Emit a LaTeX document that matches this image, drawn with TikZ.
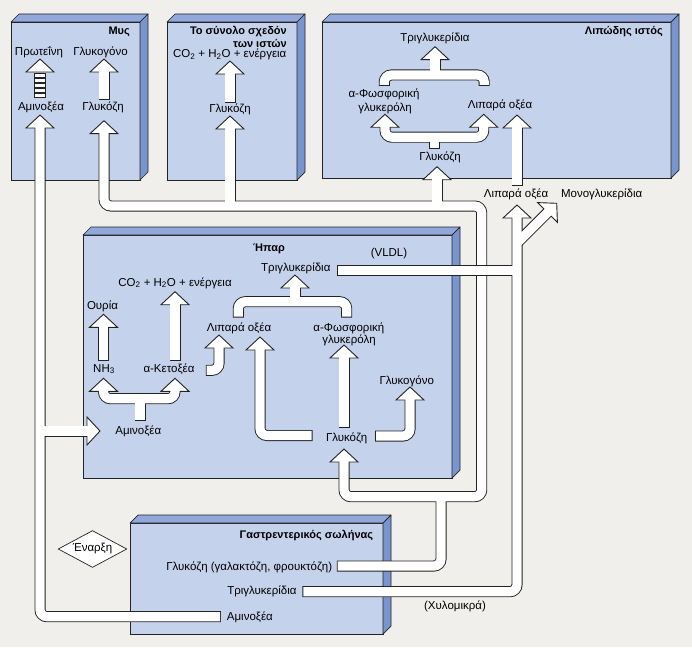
\documentclass[tikz,border=0pt]{standalone}
\usepackage{fontspec}
\setmainfont{Liberation Sans}
\definecolor{bgc}{RGB}{241,239,235}
\definecolor{frontc}{RGB}{197,210,236}
\definecolor{sidec}{RGB}{122,148,205}
\definecolor{topc}{RGB}{146,168,218}
\definecolor{edgec}{RGB}{35,35,35}
\tikzset{
  pipeout/.style={line width=11pt, draw=edgec, rounded corners=7pt, shorten <=-0.9pt, shorten >=-0.9pt},
  pipein/.style={line width=9.2pt, draw=white, rounded corners=7pt},
  headst/.style={draw=edgec, fill=white, line width=0.9pt, line join=miter},
  ahead/.pic={\path[headst] (-14,13) -- (0,0) -- (14,13) -- cycle;},
  boxst/.style={draw=edgec, fill=frontc, line width=0.7pt, inner sep=0pt, outer sep=0pt, anchor=north west},
  topst/.style={draw=edgec, fill=topc, line width=0.7pt, line join=round},
  sidest/.style={draw=edgec, fill=sidec, line width=0.7pt, line join=round},
  lbl/.style={inner sep=0pt, text height=8pt, text depth=2.5pt, font=\fontsize{11.5}{13}\selectfont},
  ttl/.style={lbl, font=\fontsize{11}{13}\selectfont\bfseries},
  stripest/.style={draw=edgec, fill=white, line width=0.8pt},
}
\newcommand\tdbox[5]{%
  \node[boxst, minimum width=#4pt, minimum height=#5pt] (#1) at (#2,#3) {};
  \draw[topst] (#1.north west) -- ++(8,-8) -- ([shift={(8,-8)}]#1.north east) -- (#1.north east) -- cycle;
  \draw[sidest] (#1.north east) -- ([shift={(8,-8)}]#1.north east) -- ([shift={(8,-8)}]#1.south east) -- (#1.south east) -- cycle;}
\newcommand\pipesOne[1]{%
  \draw[#1] (mysGlEnd) |- (glTR) -- (glBR) -| (hpGlEnd);
  \draw[#1] (gaGlFree) -| (glJ);
  \draw[#1] (olGlJ) -- (olGlEnd);
  \draw[#1] (lpGlJ) -- (lpGlEnd);
  \draw[#1] (faFree) -- (lpFaTwoEnd);
  \draw[#1] (gaAmFree) -| (mysAmEnd);
  \draw[#1] (amJ) -- (hpAmEnd);
  \draw[#1] (mysGlFree) -- (mysGyEnd);
  \draw[#1] (olGlFree) -- (olCoEnd);
  \draw[#1] (lpPhEnd) -- (lpBarL) -- (lpBarR) -- (lpFaEnd);
  \draw[#1] (lpGlFree) -- (lpBarM);
  \draw[#1] (lpForkL) -- (lpTopL) -- (lpTopR) -- (lpForkR);
  \draw[#1] (lpTopM) -- (lpTgEnd);
  \draw[#1] (hpForkL) -- (hpTopL) -- (hpTopR) -- (hpForkR);
  \draw[#1] (hpTopM) -- (hpTgEnd);
  \draw[#1] (hpNhFree) -- (hpUrEnd);
  \draw[#1] (hpKeFree) -- (hpCoEnd);
  \draw[#1] (hpKeFreeB) -| (hpFaOneEnd);
  \draw[#1] (hpGlFreeL) -| (hpFaTwoEnd);
  \draw[#1] (hpGlFreeU) -- (hpPhEnd);
  \draw[#1] (hpGlFreeR) -| (hpGyEnd);
  \draw[#1] (hpNhEnd) -- (hpAmL) -- (hpAmR) -- (hpKeEnd);
  \draw[#1] (hpAmFree) -- (hpAmM);
}
\newcommand\headsOne{%
  \foreach \t in {mysPrTip,mysGyTip,mysAmTip,mysGlTip,olCoTip,olGlTip,lpTgTip,lpPhTip,lpFaTip,lpFaTwoTip,lpGlTip,hpTgTip,hpUrTip,hpCoTip,hpFaOneTip,hpFaTwoTip,hpPhTip,hpGyTip,hpNhTip,hpKeTip,hpGlTip}{\pic at (\t) {ahead};}
  \pic[rotate=-90] at (hpAmTip) {ahead};}
\newcommand\pipesTwo[1]{%
  \draw[#1] (gaTgFree) -| (faEnd);
  \draw[#1] (hpVlFree) -- (vlJ);
  \draw[#1] (mgJ) -- (mgEnd);}
\newcommand\headsTwo{\pic at (faTip) {ahead}; \pic[rotate=-45] at (mgTip) {ahead};}
\begin{document}
\begin{tikzpicture}[x=1pt,y=-1pt]
\useasboundingbox (0,0) rectangle (692,647);
\fill[bgc] (0,0) rectangle (692,647);
% boxes
\tdbox{mys}{11}{22}{129}{158}
\tdbox{oloi}{167}{22}{130}{158}
\tdbox{lipo}{322}{22}{349}{156}
\tdbox{hpar}{83}{235}{369}{243}
\tdbox{gastro}{130}{523}{253}{111}
% coordinates
\coordinate (mysPrTip) at (40,59);
\coordinate (mysGyTip) at (104,59);
\coordinate (mysAmTip) at (40,115);
\coordinate (mysGlTip) at (104,120.7);
\coordinate (mysAmEnd) at (40,126);
\coordinate (mysGlEnd) at (104,131.7);
\coordinate (mysGlFree) at (104,99);
\coordinate (mysGyEnd) at (104,70);
\coordinate (olCoTip) at (230,61);
\coordinate (olCoEnd) at (230,72);
\coordinate (olGlFree) at (230,101.7);
\coordinate (olGlTip) at (230,116);
\coordinate (olGlEnd) at (230,127);
\coordinate (olGlJ) at (230,206);
\coordinate (glTR) at (481.7,206);
\coordinate (glBR) at (481.7,496.7);
\coordinate (hpGlTip) at (344,449);
\coordinate (hpGlEnd) at (344,460);
\coordinate (gaGlFree) at (337.7,566);
\coordinate (glJ) at (441,496.7);
\coordinate (lpGlTip) at (437,166.7);
\coordinate (lpGlEnd) at (437,177.7);
\coordinate (lpGlJ) at (437,206);
\coordinate (lpFaTwoTip) at (517,115);
\coordinate (lpFaTwoEnd) at (517,126);
\coordinate (faFree) at (517,185);
\coordinate (gaAmFree) at (220,616.7);
\coordinate (amJ) at (40,431);
\coordinate (hpAmTip) at (100,431);
\coordinate (hpAmEnd) at (89,431);
\coordinate (lpPhTip) at (385,114.3);
\coordinate (lpPhEnd) at (385,125.3);
\coordinate (lpBarL) at (385,137.2);
\coordinate (lpBarR) at (483.7,137.2);
\coordinate (lpFaTip) at (483.7,114.3);
\coordinate (lpFaEnd) at (483.7,125.3);
\coordinate (lpBarM) at (434.3,137.2);
\coordinate (lpGlFree) at (434.3,148.3);
\coordinate (lpForkL) at (384.3,85);
\coordinate (lpTopL) at (384.3,75);
\coordinate (lpTopR) at (484.2,75);
\coordinate (lpForkR) at (484.2,85);
\coordinate (lpTopM) at (435,75);
\coordinate (lpTgTip) at (435,46.7);
\coordinate (lpTgEnd) at (435,57.7);
\coordinate (hpForkL) at (238.3,316.7);
\coordinate (hpTopL) at (238.3,301.7);
\coordinate (hpTopR) at (346.7,301.7);
\coordinate (hpForkR) at (346.7,316.7);
\coordinate (hpTopM) at (295,301.7);
\coordinate (hpTgTip) at (295,275);
\coordinate (hpTgEnd) at (295,286);
\coordinate (hpUrTip) at (103.5,314.3);
\coordinate (hpUrEnd) at (103.5,325.3);
\coordinate (hpNhFree) at (103.5,360);
\coordinate (hpCoTip) at (175,291.7);
\coordinate (hpCoEnd) at (175,302.7);
\coordinate (hpKeFree) at (175,360);
\coordinate (hpKeFreeB) at (206.7,370.3);
\coordinate (hpFaOneTip) at (219,335);
\coordinate (hpFaOneEnd) at (219,346);
\coordinate (hpGlFreeL) at (311.7,435.5);
\coordinate (hpFaTwoTip) at (260,337);
\coordinate (hpFaTwoEnd) at (260,348);
\coordinate (hpGlFreeU) at (344,427);
\coordinate (hpPhTip) at (344,345);
\coordinate (hpPhEnd) at (344,356);
\coordinate (hpGlFreeR) at (376,436);
\coordinate (hpGyTip) at (410,387);
\coordinate (hpGyEnd) at (410,398);
\coordinate (hpNhTip) at (103.5,378.3);
\coordinate (hpNhEnd) at (103.5,389.3);
\coordinate (hpAmL) at (103.5,398.7);
\coordinate (hpAmR) at (175,398.7);
\coordinate (hpKeTip) at (175,378.3);
\coordinate (hpKeEnd) at (175,389.3);
\coordinate (hpAmM) at (140,398.7);
\coordinate (hpAmFree) at (140,420);
\coordinate (gaTgFree) at (303.3,591.7);
\coordinate (faTip) at (517,205);
\coordinate (faEnd) at (517,216);
\coordinate (hpVlFree) at (338.3,270.5);
\coordinate (vlJ) at (517,270.5);
\coordinate (mgJ) at (518,242);
\coordinate (mgTip) at (556.7,203.3);
\coordinate (mgEnd) at (549,211);
% pipes group 1
\pipesOne{pipeout}
\headsOne
\pipesOne{pipein}
% striped protein column
\foreach \k in {0,...,4}{\draw[stripest] (34.5,73+5.1*\k) rectangle (45.5,77.3+5.1*\k);}
% pipes group 2
\pipesTwo{pipeout}
\headsTwo
\pipesTwo{pipein}
% start diamond
\draw[fill=white, draw=edgec, line width=0.7pt] (58.3,549) -- (92.5,530.7) -- (126.7,549) -- (92.5,567.3) -- cycle;
\node[lbl] (enarxi) at (92.5,549) {Έναρξη};
% texts: Μυς
\node[ttl, anchor=east] (tMys) at (130,32) {Μυς};
\node[lbl] (mProt) at (39,52.7) {Πρωτεΐνη};
\node[lbl] (mGlyc) at (100.5,52.7) {Γλυκογόνο};
\node[lbl] (mAmin) at (41,108) {Αμινοξέα};
\node[lbl] (mGluc) at (103,108) {Γλυκόζη};
% Σύνολο ιστών
\node[ttl, anchor=east] (tOlA) at (287,32) {Το σύνολο σχεδόν};
\node[ttl, anchor=east] (tOlB) at (287,44.3) {των ιστών};
\node[lbl] (oCo) at (229.7,55) {CO\textsubscript{2} + H\textsubscript{2}O + ενέργεια};
\node[lbl] (oGluc) at (230,110) {Γλυκόζη};
% Λιπώδης
\node[ttl, anchor=east] (tLip) at (663,32) {Λιπώδης ιστός};
\node[lbl] (lTg) at (435,38.3) {Τριγλυκερίδια};
\node[lbl] (lPhA) at (384,94.3) {α-Φωσφορική};
\node[lbl] (lPhB) at (385,108.3) {γλυκερόλη};
\node[lbl] (lFa) at (500,106) {Λιπαρά οξέα};
\node[lbl] (lGluc) at (440,157.3) {Γλυκόζη};
\node[lbl] (xFa) at (516,194.5) {Λιπαρά οξέα};
\node[lbl] (xMg) at (601.7,194.3) {Μονογλυκερίδια};
% Ήπαρ
\node[ttl] (tHp) at (269,248.3) {Ήπαρ};
\node[lbl] (hVl) at (389,253.3) {(VLDL)};
\node[lbl] (hTg) at (295.8,268.3) {Τριγλυκερίδια};
\node[lbl] (hCo) at (175,283.3) {CO\textsubscript{2} + H\textsubscript{2}O + ενέργεια};
\node[lbl] (hUr) at (102.5,306.7) {Ουρία};
\node[lbl] (hFa) at (239,328.3) {Λιπαρά οξέα};
\node[lbl] (hPhA) at (348.8,328.3) {α-Φωσφορική};
\node[lbl] (hPhB) at (349,340.7) {γλυκερόλη};
\node[lbl] (hNh) at (104,369.3) {NH\textsubscript{3}};
\node[lbl] (hKe) at (169,369.3) {α-Κετοξέα};
\node[lbl] (hGy) at (406.7,381.7) {Γλυκογόνο};
\node[lbl] (hAm) at (138.3,431.7) {Αμινοξέα};
\node[lbl] (hGl) at (346.7,438.3) {Γλυκόζη};
% Γαστρεντερικός
\node[ttl, anchor=east] (tGa) at (373.3,536) {Γαστρεντερικός σωλήνας};
\node[lbl, anchor=east] (gGl) at (332.3,567.3) {Γλυκόζη (γαλακτόζη, φρουκτόζη)};
\node[lbl, anchor=east] (gTg) at (296.7,591.7) {Τριγλυκερίδια};
\node[lbl, anchor=west] (gAm) at (226.7,617.3) {Αμινοξέα};
\node[lbl] (gCh) at (455,606.7) {(Χυλομικρά)};
\end{tikzpicture}
\end{document}
